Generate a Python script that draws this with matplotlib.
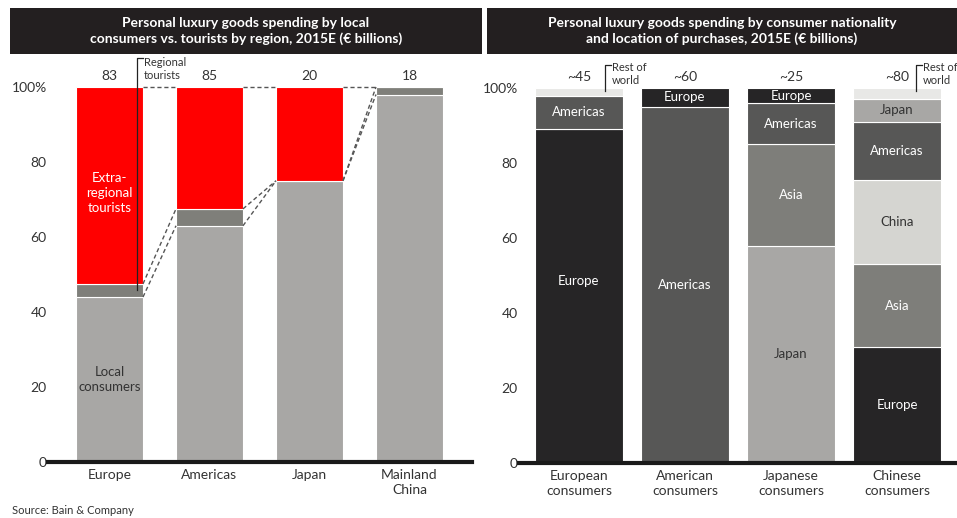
import matplotlib.pyplot as plt
from matplotlib.patches import Rectangle

plt.rcParams['font.family'] = ['Lato', 'DejaVu Sans']

# left panel data (% of spending)
left_regions = ["Europe", "Americas", "Japan", "Mainland\nChina"]
left_totals = ["83", "85", "20", "18"]
local_share = [44, 63, 75, 98]
regional_share = [3.5, 4.5, 0, 2]
extra_share = [52.5, 32.5, 25, 0]

# right panel data: location of purchases, bottom to top
right_groups = ["European\nconsumers", "American\nconsumers", "Japanese\nconsumers", "Chinese\nconsumers"]
right_totals = ["~45", "~60", "~25", "~80"]
european_locs = ["Europe", "Americas", "Rest of world"]
european_vals = [89, 9, 2]
american_locs = ["Americas", "Europe"]
american_vals = [95, 5]
japanese_locs = ["Japan", "Asia", "Americas", "Europe"]
japanese_vals = [58, 27, 11, 4]
chinese_locs = ["Europe", "Asia", "China", "Americas", "Japan", "Rest of world"]
chinese_vals = [31, 22, 22.5, 15.5, 6, 3]

loc_colors = {"Europe": "#262526", "Americas": "#575756", "Asia": "#7e7e7a",
              "Japan": "#a8a7a5", "China": "#d5d5d1", "Rest of world": "#e8e8e6"}
dark_text = {"Japan", "China"}

fig = plt.figure(figsize=(9.57, 5.18), dpi=100)
W, H = 957, 518


def fx(px):
    return px / W


def fy(py):
    return 1 - py / H


# title boxes
for x0, x1, title in [(10, 482, "Personal luxury goods spending by local\nconsumers vs. tourists by region, 2015E (€ billions)"),
                      (487, 957, "Personal luxury goods spending by consumer nationality\nand location of purchases, 2015E (€ billions)")]:
    fig.patches.append(Rectangle((fx(x0), fy(54)), fx(x1 - x0), 46 / H, transform=fig.transFigure,
                                 facecolor="#231f20", edgecolor="none"))
    fig.text(fx((x0 + x1) / 2), fy(31), title, ha="center", va="center", color="white",
             fontsize=10, fontweight="bold", linespacing=1.3)

fig.text(fx(12), fy(511), "Source: Bain & Company", fontsize=8, color="#333333", va="center")

GRAY_TXT = "#333333"


def style_axis(ax):
    for s in ["left", "right", "top"]:
        ax.spines[s].set_visible(False)
    ax.spines["bottom"].set_linewidth(3)
    ax.spines["bottom"].set_color("#1a1a1a")
    ax.set_ylim(0, 100)
    ax.set_yticks([0, 20, 40, 60, 80, 100])
    ax.set_yticklabels(["0", "20", "40", "60", "80", "100%"])
    ax.tick_params(axis="y", length=0, pad=1, labelsize=10, labelcolor=GRAY_TXT)
    ax.tick_params(axis="x", length=0, pad=5, labelsize=10, labelcolor=GRAY_TXT)


# ---- left panel ----
axl = fig.add_axes([fx(48), 1 - 462 / H, fx(424), 375 / H])
xs = list(range(len(left_regions)))
bw = 0.67
axl.bar(xs, local_share, bw, color="#a8a7a5", edgecolor="white", linewidth=0.8)
reg_bottom = local_share
axl.bar(xs, regional_share, bw, bottom=reg_bottom, color="#7f7f7a", edgecolor="white", linewidth=0.8)
ext_bottom = [a + b for a, b in zip(local_share, regional_share)]
axl.bar(xs, extra_share, bw, bottom=ext_bottom, color="#ff0000", edgecolor="white", linewidth=0.8)
axl.set_xlim(-0.615, 3.625)
axl.set_xticks(xs)
axl.set_xticklabels(left_regions, linespacing=1.3)
style_axis(axl)

for i, t in enumerate(left_totals):
    axl.text(i, 103, t, ha="center", va="center", fontsize=10, color=GRAY_TXT, clip_on=False)

axl.text(0, local_share[0] / 2, "Local\nconsumers", ha="center", va="center", fontsize=9.5,
         color=GRAY_TXT, linespacing=1.3)
axl.text(0, ext_bottom[0] + extra_share[0] / 2 - 2, "Extra-\nregional\ntourists", ha="center", va="center",
         fontsize=9.5, color="white", linespacing=1.3)

# connector dashes between bars
h = bw / 2
dash = dict(color="#555555", linestyle=(0, (3, 2)), linewidth=1, clip_on=False)
for i in range(len(xs) - 1):
    axl.plot([i + h, i + 1 - h], [100, 100], **dash)
    top_a = local_share[i] + regional_share[i]
    top_b = local_share[i + 1] + regional_share[i + 1]
    axl.plot([i + h, i + 1 - h], [top_a, top_b], **dash)
    axl.plot([i + h, i + 1 - h], [local_share[i], local_share[i + 1]], **dash)

# regional tourists callout
lx = 0.275
axl.plot([lx, lx, lx + 0.06], [local_share[0] + regional_share[0] / 2, 107.7, 107.7],
         color="#222222", linewidth=0.9, clip_on=False)
axl.text(lx + 0.07, 104.9, "Regional\ntourists", ha="left", va="center", fontsize=8,
         color=GRAY_TXT, linespacing=1.25, clip_on=False)

# ---- right panel ----
axr = fig.add_axes([fx(519), 1 - 463 / H, fx(438), 375 / H])
rbw = 0.83
bars = [(european_locs, european_vals), (american_locs, american_vals),
        (japanese_locs, japanese_vals), (chinese_locs, chinese_vals)]
for i, (locs, vals) in enumerate(bars):
    bottom = 0
    for loc, v in zip(locs, vals):
        axr.bar(i, v, rbw, bottom=bottom, color=loc_colors[loc], edgecolor="white", linewidth=0.8)
        if loc != "Rest of world":
            ty = bottom + v / 2
            if i == 0 and loc == "Europe":
                ty += 4
            axr.text(i, ty, loc, ha="center", va="center", fontsize=9.5,
                     color=GRAY_TXT if loc in dark_text else "white")
        bottom += v
axr.set_xlim(-0.566, 3.566)
axr.set_xticks(range(len(right_groups)))
axr.set_xticklabels(right_groups, linespacing=1.3)
style_axis(axr)

for i, t in enumerate(right_totals):
    axr.text(i, 103, t, ha="center", va="center", fontsize=10, color=GRAY_TXT, clip_on=False)

for i, off in [(0, 0.245), (3, 0.18)]:
    axr.plot([i + off, i + off, i + off + 0.06], [99.3, 106.1, 106.1], color="#222222",
             linewidth=0.9, clip_on=False)
    axr.text(i + off + 0.065, 103.7, "Rest of\nworld", ha="left", va="center", fontsize=8,
             color=GRAY_TXT, linespacing=1.25, clip_on=False)

fig.savefig("out.png", dpi=100)
